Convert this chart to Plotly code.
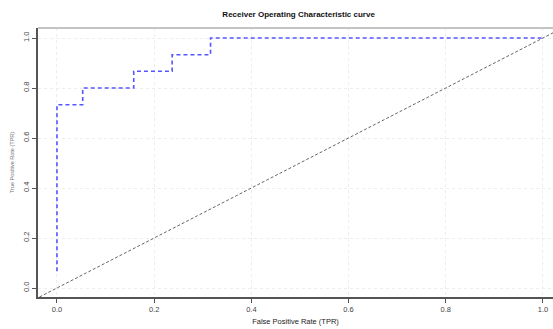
import plotly.graph_objects as go

# ROC curve points (false positive rate, true positive rate)
fpr = [0.0, 0.0, 0.053, 0.053, 0.158, 0.158, 0.237, 0.237, 0.316, 0.316, 1.0]
tpr = [0.067, 0.733, 0.733, 0.8, 0.8, 0.867, 0.867, 0.933, 0.933, 1.0, 1.0]

# reference line (chance level)
ref_x = [-0.1, 1.1]
ref_y = [-0.1, 1.1]

tick_vals = [0.0, 0.2, 0.4, 0.6, 0.8, 1.0]
tick_text = ["0.0", "0.2", "0.4", "0.6", "0.8", "1.0"]

FONT = "Liberation Sans, Arial, sans-serif"

fig = go.Figure()
fig.add_trace(go.Scatter(
    x=ref_x, y=ref_y, mode="lines",
    line=dict(color="#666666", width=1, dash="3px,2px"),
    hoverinfo="skip", showlegend=False,
))
fig.add_trace(go.Scatter(
    x=fpr, y=tpr, mode="lines",
    line=dict(color="#5555ff", width=1.6, dash="4px,3px"),
    showlegend=False,
))

grid = dict(showgrid=True, gridcolor="#ededed", griddash="dot", gridwidth=1,
            zeroline=False)

fig.update_xaxes(
    range=[-0.039, 1.0206], tickvals=tick_vals, ticktext=tick_text,
    ticks="outside", ticklen=4, tickcolor="#555555", tickwidth=1,
    showline=True, linecolor="#555555", linewidth=1.5,
    tickfont=dict(size=7.5, color="#444444", family=FONT),
    title=dict(text="False Positive Rate (TPR)", font=dict(size=7.5, color="#222222", family=FONT),
               standoff=6),
    **grid,
)
fig.update_yaxes(
    range=[-0.036, 1.04], tickvals=tick_vals, ticktext=tick_text,
    ticks="outside", ticklen=4, tickcolor="#555555", tickwidth=1, tickangle=-90,
    showline=True, linecolor="#555555", linewidth=1.5,
    tickfont=dict(size=7.5, color="#444444", family=FONT),
    title=dict(text="True Positive Rate (TPR)", font=dict(size=5.5, color="#777777", family=FONT),
               standoff=7),
    **grid,
)

# light frame line along the top of the plotting region
fig.add_shape(type="line", xref="paper", yref="paper", x0=0, x1=1, y0=1, y1=1,
              line=dict(color="#c4c4c4", width=2))

fig.update_layout(
    width=553, height=329,
    margin=dict(l=38, r=0, t=28, b=32),
    paper_bgcolor="white", plot_bgcolor="white",
    title=dict(text="<b>Receiver Operating Characteristic curve</b>",
               x=0.54, xanchor="center", y=0.958, yanchor="middle",
               font=dict(size=8, color="#111111", family=FONT)),
)

fig.write_html("out.html")
